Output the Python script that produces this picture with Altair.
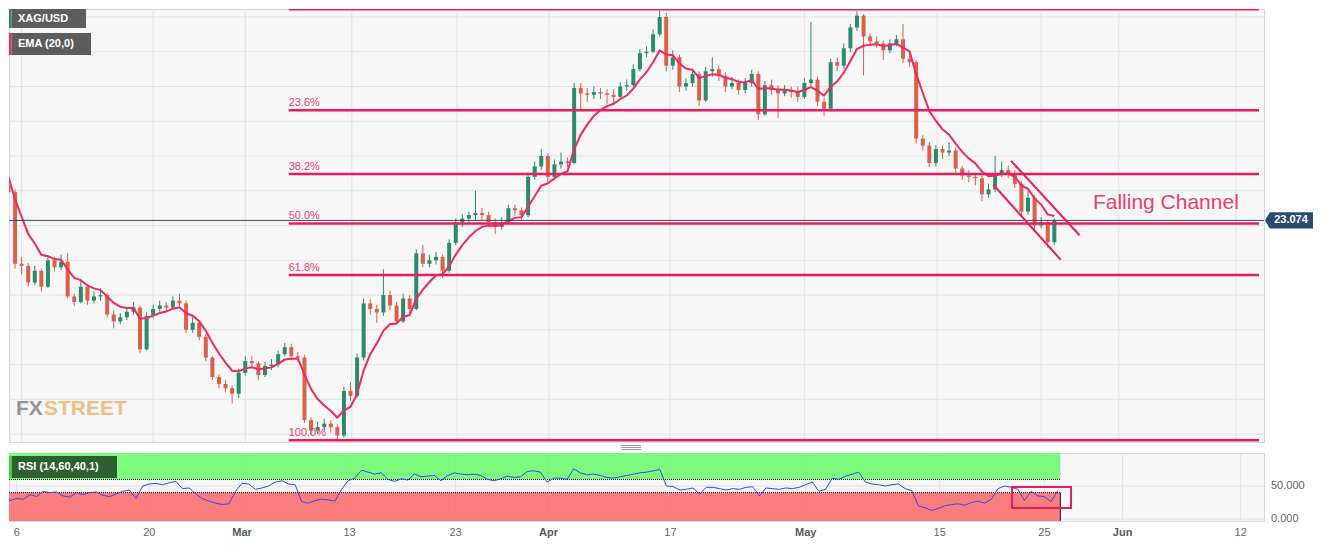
import altair as alt
import pandas as pd

# ---------------- data (half-day bars) ----------------
closes = [
    23.48, 22.45, 22.42, 22.18, 22.35, 22.12, 22.50, 22.40, 22.48, 21.98,
    21.90, 22.12, 21.92, 21.98, 22.00, 21.72, 21.62, 21.68, 21.76, 21.82,
    21.22, 21.70, 21.80, 21.85, 21.82, 21.92, 21.88, 21.50, 21.60, 21.40,
    21.10, 20.82, 20.72, 20.66, 20.58, 20.88, 21.05, 21.02, 20.85, 20.98,
    21.00, 21.15, 21.25, 21.12, 21.10, 20.20, 20.05, 20.10, 20.15, 20.10,
    19.98, 20.62, 20.55, 21.10, 21.88, 21.80, 21.75, 22.00, 21.85, 21.62,
    21.95, 21.80, 22.60, 22.45, 22.50, 22.55, 22.35, 22.75, 23.05, 23.10,
    23.15, 23.18, 23.15, 23.05, 22.98, 23.05, 23.25, 23.22, 23.15, 23.70,
    23.85, 24.00, 23.70, 23.88, 23.92, 23.90, 24.98, 24.90, 24.88, 24.92,
    24.90, 24.88, 24.85, 25.00, 25.02, 25.25, 25.48, 25.50, 25.75, 26.00,
    25.30, 25.42, 25.00, 25.05, 25.18, 24.80, 25.22, 25.25, 25.15, 25.00,
    25.05, 24.95, 25.05, 25.18, 24.60, 25.02, 24.95, 24.90, 24.95, 24.92,
    24.85, 25.05, 25.10, 24.78, 24.68, 25.35, 25.30, 25.55, 25.85, 26.02,
    25.72, 25.65, 25.62, 25.52, 25.62, 25.68, 25.40, 25.35, 24.25, 24.15,
    23.90, 24.10, 24.05, 24.08, 23.82, 23.72, 23.70, 23.68, 23.45, 23.52,
    23.75, 23.80, 23.75, 23.60, 23.20, 23.40, 23.00, 23.05, 22.76, 23.074,
]
highs = [
    23.62, 23.52, 22.55, 22.46, 22.42, 22.38, 22.56, 22.55, 22.58, 22.60,
    22.02, 22.20, 22.15, 22.05, 22.10, 22.03, 21.78, 21.74, 21.82, 21.90,
    21.85, 21.75, 21.86, 21.92, 21.90, 21.98, 22.02, 21.92, 21.68, 21.64,
    21.44, 21.12, 20.86, 20.78, 20.70, 20.94, 21.12, 21.12, 21.05, 21.04,
    21.08, 21.20, 21.31, 21.30, 21.18, 21.14, 20.24, 20.18, 20.22, 20.20,
    20.14, 20.68, 20.75, 21.16, 21.95, 21.94, 21.86, 22.37, 22.06, 21.90,
    22.02, 22.00, 22.66, 22.72, 22.58, 22.62, 22.58, 22.80, 23.10, 23.16,
    23.20, 23.50, 23.25, 23.20, 23.10, 23.12, 23.30, 23.30, 23.26, 23.76,
    23.92, 24.10, 24.04, 23.95, 24.05, 23.98, 25.05, 25.05, 24.98, 25.00,
    24.98, 24.96, 24.96, 25.06, 25.10, 25.32, 25.54, 25.58, 25.82, 26.09,
    26.06, 25.52, 25.46, 25.12, 25.26, 25.22, 25.28, 25.42, 25.30, 25.20,
    25.14, 25.10, 25.12, 25.24, 25.22, 25.08, 25.10, 25.02, 25.02, 25.00,
    25.00, 25.12, 25.93, 25.14, 24.84, 25.40, 25.42, 25.62, 25.90, 26.08,
    26.04, 25.76, 25.72, 25.66, 25.68, 25.74, 25.90, 25.46, 25.38, 24.30,
    24.20, 24.16, 24.15, 24.20, 24.12, 23.86, 23.80, 23.76, 23.72, 23.60,
    24.00, 23.92, 23.86, 23.80, 23.64, 23.50, 23.44, 23.12, 23.08, 23.10,
]
lows = [
    23.42, 22.38, 22.30, 22.12, 22.14, 22.05, 22.10, 22.34, 22.36, 21.95,
    21.84, 21.88, 21.86, 21.88, 21.92, 21.68, 21.52, 21.58, 21.64, 21.72,
    21.16, 21.20, 21.66, 21.76, 21.76, 21.80, 21.82, 21.45, 21.46, 21.35,
    21.05, 20.78, 20.66, 20.60, 20.44, 20.52, 20.84, 20.96, 20.78, 20.82,
    20.92, 20.96, 21.12, 21.06, 21.04, 20.16, 19.98, 20.00, 20.04, 20.02,
    19.91, 19.95, 20.48, 20.52, 21.06, 21.72, 21.60, 21.70, 21.78, 21.58,
    21.60, 21.74, 21.78, 22.40, 22.40, 22.44, 22.24, 22.32, 22.72, 22.98,
    23.04, 23.08, 23.08, 22.98, 22.88, 22.94, 23.02, 23.14, 23.08, 23.12,
    23.66, 23.80, 23.62, 23.66, 23.82, 23.84, 23.88, 24.65, 24.78, 24.82,
    24.82, 24.75, 24.76, 24.82, 24.94, 25.00, 25.22, 25.42, 25.48, 25.72,
    25.22, 25.24, 24.92, 24.94, 25.00, 24.72, 24.78, 25.14, 25.08, 24.92,
    24.96, 24.88, 24.90, 25.00, 24.52, 24.58, 24.88, 24.55, 24.86, 24.84,
    24.78, 24.82, 25.00, 24.72, 24.58, 24.64, 25.22, 25.26, 25.50, 25.80,
    25.16, 25.58, 25.56, 25.38, 25.48, 25.58, 25.34, 25.28, 24.18, 24.08,
    23.84, 23.85, 23.96, 24.00, 23.76, 23.66, 23.62, 23.58, 23.35, 23.40,
    23.48, 23.70, 23.68, 23.54, 23.14, 23.16, 22.94, 22.96, 22.68, 22.72,
]
rsi_values = [
    44, 28, 31, 30, 37, 34, 42, 40, 41, 35,
    33, 40, 37, 40, 41, 36, 34, 38, 42, 44,
    31, 50, 53, 54, 52, 55, 57, 46, 47, 38,
    31, 27, 24, 22, 23, 42, 54, 53, 45, 47,
    50, 56, 58, 53, 52, 26, 24, 28, 30, 29,
    27, 45, 58, 62, 74, 71, 68, 70, 60, 57,
    61, 59, 68, 64, 65, 66, 58, 66, 70, 68,
    67, 68, 66, 60, 58, 61, 65, 63, 64, 72,
    73, 71, 56, 62, 62, 60, 76, 70, 67, 68,
    66, 63, 62, 64, 66, 68, 70, 71, 73, 75,
    50, 49, 44, 45, 47, 38, 48, 48, 46, 44,
    46, 45, 48, 49, 35, 47, 46, 45, 47, 46,
    48, 52, 56, 42, 45, 62, 60, 65, 68, 71,
    56, 53, 52, 50, 52, 53, 46, 43, 20, 17,
    13, 16, 20, 22, 23, 21, 25, 27, 24, 30,
    46, 50, 48, 45, 28, 42, 35, 34, 26, 43,
]
FIRST_OPEN = 23.58
EMA_SEED = 23.78
EMA_SPAN = 6.67          # EMA(20) of 4h bars expressed in half-day bars

# time axis in trading-day units
x_tick_t = [0, 10, 17.0, 25.1, 33.1, 40.1, 49.3, 59.5, 69.6, 77.5, 83.4, 92.3]
x_tick_labels = ['6', '20', 'Mar', '13', '23', 'Apr', '17', 'May', '15', '25', 'Jun', '12']
month_labels = ['Mar', 'Apr', 'May', 'Jun']
y_ticks_main = [20.0, 20.5, 21.0, 21.5, 22.0, 22.5, 23.0, 23.5, 24.0, 24.5, 25.0, 25.5, 26.0]
y_ticks_rsi = [0, 50]

fib_levels = [26.11, 24.66, 23.74, 23.03, 22.29, 19.91]
fib_labels = ['0.0%', '23.6%', '38.2%', '50.0%', '61.8%', '100.0%']
FIB_START_T = 20.3

chan_t1 = [75.21, 73.85]
chan_p1 = [23.93, 23.59]
chan_t2 = [80.42, 78.98]
chan_p2 = [22.86, 22.51]

last_price = 23.074
DATA_END_T = 78.7
rsi_box_t = [75.06, 79.51]
rsi_box_v = [16.7, 48.5]
annotation_t, annotation_p, annotation_text = 86.98, 23.33, 'Falling Channel'

# ---------------- styles ----------------
UP, DOWN = '#2b8a6e', '#d9614a'
EMA_C = '#ee2a62'
FIB_C = '#ec1c5c'
FIB_T = '#e8416f'
NAVY = '#2b4a70'
GRID = '#e3e3e3'
LABEL_C = '#666666'
FONT = 'Liberation Sans'

W, H_MAIN, H_RSI = 1255, 433, 68
XL, XR = -0.58, 94.06
YL, YH = 19.886, 26.115
RL, RH = -3, 100

assert len(closes) == len(highs) == len(lows) == len(rsi_values)
bar_t = [-1 + 0.5 * i for i in range(len(closes))]
opens = [FIRST_OPEN] + closes[:-1]
alpha = 2 / (EMA_SPAN + 1)
e = EMA_SEED
ema = []
for c in closes:
    e = e + alpha * (c - e)
    ema.append(e)

df = pd.DataFrame({'t': bar_t, 'open': opens, 'close': closes, 'high': highs,
                   'low': lows, 'ema': ema, 'rsi': rsi_values})

xscale = alt.Scale(domain=[XL, XR], nice=False, zero=False)
yscale = alt.Scale(domain=[YL, YH], nice=False, zero=False)
rscale = alt.Scale(domain=[RL, RH], nice=False, zero=False)


def X(f):
    return alt.X(f, scale=xscale, axis=None)


def Y(f):
    return alt.Y(f, scale=yscale, axis=None)


def R(f):
    return alt.Y(f, scale=rscale, axis=None)


one = pd.DataFrame({'a': [0]})


def box(x0, x1, y0, y1, fill):
    return alt.Chart(one).mark_rect(fill=fill, opacity=1).encode(
        x=alt.value(x0), x2=alt.value(x1), y=alt.value(y0), y2=alt.value(y1))


def label(x, y, text, color, size, weight='bold', font=FONT):
    return alt.Chart(one).mark_text(align='left', baseline='middle', color=color,
                                    fontSize=size, fontWeight=weight, font=font).encode(
        x=alt.value(x), y=alt.value(y), text=alt.value(text))


def hrule(x0, x1, y, color):
    return alt.Chart(one).mark_rule(color=color, strokeWidth=1).encode(
        x=alt.value(x0), x2=alt.value(x1), y=alt.value(y))


xt_df = pd.DataFrame({'t': x_tick_t, 'label': x_tick_labels,
                      'month': [l in month_labels for l in x_tick_labels]})
ytm_df = pd.DataFrame({'v': y_ticks_main})
yt_df = pd.DataFrame({'v': y_ticks_rsi, 'label': [f'{v:.3f}' for v in y_ticks_rsi]})

# ---------------- main panel ----------------
y_axis_main = alt.Axis(orient='right', values=y_ticks_main, format='.3f', ticks=False,
                       domain=False, grid=False, labelPadding=7, title=None, zindex=0)
candle_color = alt.condition('datum.close >= datum.open', alt.value(UP), alt.value(DOWN))

main_grid_v = alt.Chart(xt_df).mark_rule(color=GRID, strokeWidth=1).encode(x=X('t:Q'))
main_grid_h = alt.Chart(ytm_df).mark_rule(color=GRID, strokeWidth=1).encode(y=Y('v:Q'))

wicks = alt.Chart(df).mark_rule(strokeWidth=1, clip=True).encode(
    x=X('t:Q'),
    y=alt.Y('low:Q', scale=yscale, axis=y_axis_main),
    y2='high:Q', color=candle_color)
bodies = alt.Chart(df).mark_bar(size=4, clip=True).encode(
    x=X('t:Q'), y=Y('open:Q'), y2='close:Q', color=candle_color)
ema_line = alt.Chart(df).mark_line(color=EMA_C, strokeWidth=2, clip=True).encode(
    x=X('t:Q'), y=Y('ema:Q'))

fib_df = pd.DataFrame({'level': fib_levels, 'label': fib_labels,
                       'xs': FIB_START_T, 'xe': XR})
fib_rules = alt.Chart(fib_df).mark_rule(color=FIB_C, strokeWidth=2.5, clip=True).encode(
    x=X('xs:Q'), x2='xe:Q', y=Y('level:Q'))
fib_text = alt.Chart(fib_df).mark_text(align='left', baseline='bottom', dy=-2, fontSize=11,
                                       color=FIB_T, font=FONT, clip=True).encode(
    x=X('xs:Q'), y=Y('level:Q'), text='label:N')

last_df = pd.DataFrame({'p': [last_price], 'label': [f'{last_price:.3f}']})
price_rule = alt.Chart(last_df).mark_rule(color=NAVY, strokeWidth=1).encode(y=Y('p:Q'))
TAG_PATH = 'M-1,0L-0.8,-0.34L1,-0.34L1,0.34L-0.8,0.34Z'
price_tag = alt.Chart(last_df).mark_point(shape=TAG_PATH, size=2304, filled=True, opacity=1,
                                          color=NAVY, strokeWidth=0).encode(
    x=alt.value(1280), y=Y('p:Q'))
price_text = alt.Chart(last_df).mark_text(color='white', fontSize=11, fontWeight='bold',
                                          font=FONT).encode(
    x=alt.value(1282), y=Y('p:Q'), text='label:N')

chan_df = pd.DataFrame({'t1': chan_t1, 'p1': chan_p1, 't2': chan_t2, 'p2': chan_p2})
chan = alt.Chart(chan_df).mark_rule(color=FIB_C, strokeWidth=2).encode(
    x=X('t1:Q'), x2='t2:Q', y=Y('p1:Q'), y2='p2:Q')

ann_df = pd.DataFrame({'t': [annotation_t], 'p': [annotation_p], 'text': [annotation_text]})
ann = alt.Chart(ann_df).mark_text(fontSize=21, color=FIB_T, font=FONT).encode(
    x=X('t:Q'), y=Y('p:Q'), text='text:N')

main = alt.layer(
    main_grid_v, main_grid_h,
    wicks, bodies, ema_line, fib_rules, fib_text, price_rule, chan, ann,
    price_tag, price_text,
    box(2.5, 77, 0, 19, '#5d5d5d'), box(0, 2.5, 0, 19, UP),
    label(9, 10, 'XAG/USD', 'white', 11),
    box(2.5, 82, 24, 46, '#5d5d5d'), box(0, 2.5, 24, 46, EMA_C),
    label(9, 35, 'EMA (20,0)', 'white', 11),
    label(7, 400, 'FX', '#959595', 21),
    label(35, 400, 'STREET', '#efbf8a', 21),
).properties(width=W, height=H_MAIN)

# ---------------- RSI panel (guides drawn as marks) ----------------
grid_v = alt.Chart(xt_df).mark_rule(color=GRID, strokeWidth=1).encode(x=X('t:Q'))
grid_h = alt.Chart(yt_df).mark_rule(color=GRID, strokeWidth=1).encode(y=R('v:Q'))
x_labels_plain = alt.Chart(xt_df).transform_filter('!datum.month').mark_text(
    align='center', baseline='top', fontSize=11, color=LABEL_C, font=FONT).encode(
    x=X('t:Q'), y=alt.value(H_RSI + 6), text='label:N')
x_labels_month = alt.Chart(xt_df).transform_filter('datum.month').mark_text(
    align='center', baseline='top', fontSize=11, fontWeight='bold', color='#5a5a5a',
    font=FONT).encode(
    x=X('t:Q'), y=alt.value(H_RSI + 6), text='label:N')
y_labels = alt.Chart(yt_df).mark_text(
    align='left', baseline='middle', fontSize=11, color=LABEL_C, font=FONT).encode(
    x=alt.value(W + 7), y=R('v:Q'), text='label:N')

bands_df = pd.DataFrame({'x1': [XL, XL], 'x2': [DATA_END_T, DATA_END_T],
                         'y1': [60, RL], 'y2': [RH, 40], 'c': ['#67fb67', '#fb6767']})
bands = alt.Chart(bands_df).mark_rect(opacity=0.85).encode(
    x=X('x1:Q'), x2='x2:Q', y=R('y1:Q'), y2='y2:Q',
    color=alt.Color('c:N', scale=None, legend=None))
dots_df = pd.DataFrame({'x1': [XL, XL], 'x2': [DATA_END_T, DATA_END_T], 'y': [60, 40]})
dots = alt.Chart(dots_df).mark_rule(color='#111111', strokeDash=[1, 1], strokeWidth=1).encode(
    x=X('x1:Q'), x2='x2:Q', y=R('y:Q'))
end_df = pd.DataFrame({'x': [DATA_END_T], 'y1': [RL], 'y2': [40]})
end_line = alt.Chart(end_df).mark_rule(color='#111111', strokeWidth=1).encode(
    x=X('x:Q'), y=R('y1:Q'), y2='y2:Q')
rsi_line = alt.Chart(df).mark_line(color='#2b4cf5', strokeWidth=1, clip=True).encode(
    x=X('t:Q'), y=R('rsi:Q'))
rbox_df = pd.DataFrame({'x1': [rsi_box_t[0]], 'x2': [rsi_box_t[1]],
                        'y1': [rsi_box_v[0]], 'y2': [rsi_box_v[1]]})
rbox = alt.Chart(rbox_df).mark_rect(fillOpacity=0, stroke=FIB_C, strokeWidth=2).encode(
    x=X('x1:Q'), x2='x2:Q', y=R('y1:Q'), y2='y2:Q')

rsi = alt.layer(
    grid_v, grid_h, bands, dots, end_line, rsi_line, rbox,
    x_labels_plain, x_labels_month, y_labels,
    box(2.5, 108, 3, 25, '#2f5f30'), box(0, 2.5, 3, 25, '#33dd33'),
    label(9, 14, 'RSI (14,60,40,1)', 'white', 11),
    hrule(612, 632, -7.5, '#999999'), hrule(612, 632, -5.5, '#999999'),
    hrule(612, 632, -3.5, '#999999'),
).properties(width=W, height=H_RSI)

chart = alt.vconcat(main, rsi, spacing=11, bounds='flush').properties(padding=0).configure_view(
    fill='#f7f7f7', stroke='#d3d9e4', strokeWidth=1
).configure_axis(
    labelFont=FONT, labelFontSize=11, labelColor=LABEL_C, gridColor=GRID, gridWidth=1
)

chart.save('out.html', embed_options={'renderer': 'svg', 'actions': False})
